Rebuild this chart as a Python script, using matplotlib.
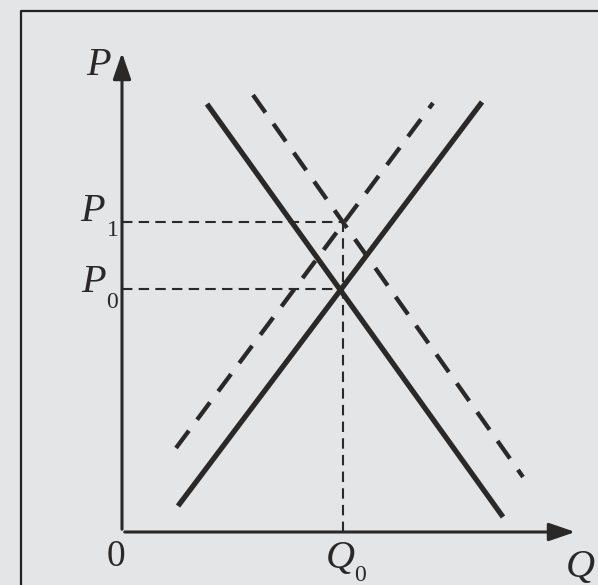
import matplotlib.pyplot as plt

# curves as (Q, P) endpoints, 1 unit = 20 px
demand_q = [4.25, 19.05]
demand_p = [21.4, 0.75]
supply_q = [2.8, 18.0]
supply_p = [1.3, 21.5]
demand2_q = [6.55, 20.05]
demand2_p = [21.85, 2.75]
supply2_q = [2.7, 15.55]
supply2_p = [4.2, 21.45]

q0 = 11.05
p0 = 12.15
p1 = 15.5

ink = '#2b2828'
bg = '#e3e5e7'


def px(x, y):
    # pixel position in the picture -> data units
    return (x - 122) / 20, (532 - y) / 20


fig = plt.figure(figsize=(5.98, 5.85), dpi=100, facecolor=bg)
ax = fig.add_axes([0, 0, 1, 1])
ax.set_facecolor(bg)
ax.set_xlim(px(0, 0)[0], px(598, 0)[0])
ax.set_ylim(px(0, 585)[1], px(0, 0)[1])
ax.axis('off')

# frame of the printed box
fx, fy = px(21, 11)
ax.plot([fx, fx, 30], [-5, fy, fy], color='#222', lw=1.6)

# axes with arrows
arrow = dict(arrowstyle='-|>,head_length=1.6,head_width=0.55', color=ink, lw=2.2)
ax.annotate('', xy=px(122, 50), xytext=(0, 0), arrowprops=arrow)
ax.annotate('', xy=px(578, 532), xytext=(0, 0), arrowprops=arrow)

# curves
ax.plot(demand_q, demand_p, color=ink, lw=3.8, solid_capstyle='butt')
ax.plot(supply_q, supply_p, color=ink, lw=3.8, solid_capstyle='butt')
ax.plot(demand2_q, demand2_p, color=ink, lw=3.1, dashes=(5, 3.2))
ax.plot(supply2_q, supply2_p, color=ink, lw=3.1, dashes=(5, 3.2))

# guide lines
ax.plot([0, q0], [p1, p1], color=ink, lw=1.5, dashes=(5, 3))
ax.plot([0, q0], [p0, p0], color=ink, lw=1.5, dashes=(5, 3))
ax.plot([q0, q0], [0, p1], color=ink, lw=1.5, dashes=(5, 3))

# labels
big = dict(fontsize=29, family='Liberation Serif', style='italic', color=ink,
           ha='left', va='baseline')
sub = dict(fontsize=17, family='Liberation Serif', color=ink, ha='left', va='baseline')
ax.text(*px(86, 75), 'P', **big)
ax.text(*px(80, 221), 'P', **big)
ax.text(*px(107, 236), '1', **sub)
ax.text(*px(81, 292), 'P', **big)
ax.text(*px(106, 308), '0', **sub)
ax.text(*px(107, 566), '0', fontsize=27, family='Liberation Serif', color=ink,
        ha='left', va='baseline')
ax.text(*px(326, 568), 'Q', **big)
ax.text(*px(354, 581), '0', **sub)
ax.text(*px(566, 577), 'Q', **big)

fig.savefig('out.png', dpi=100, facecolor=bg)
